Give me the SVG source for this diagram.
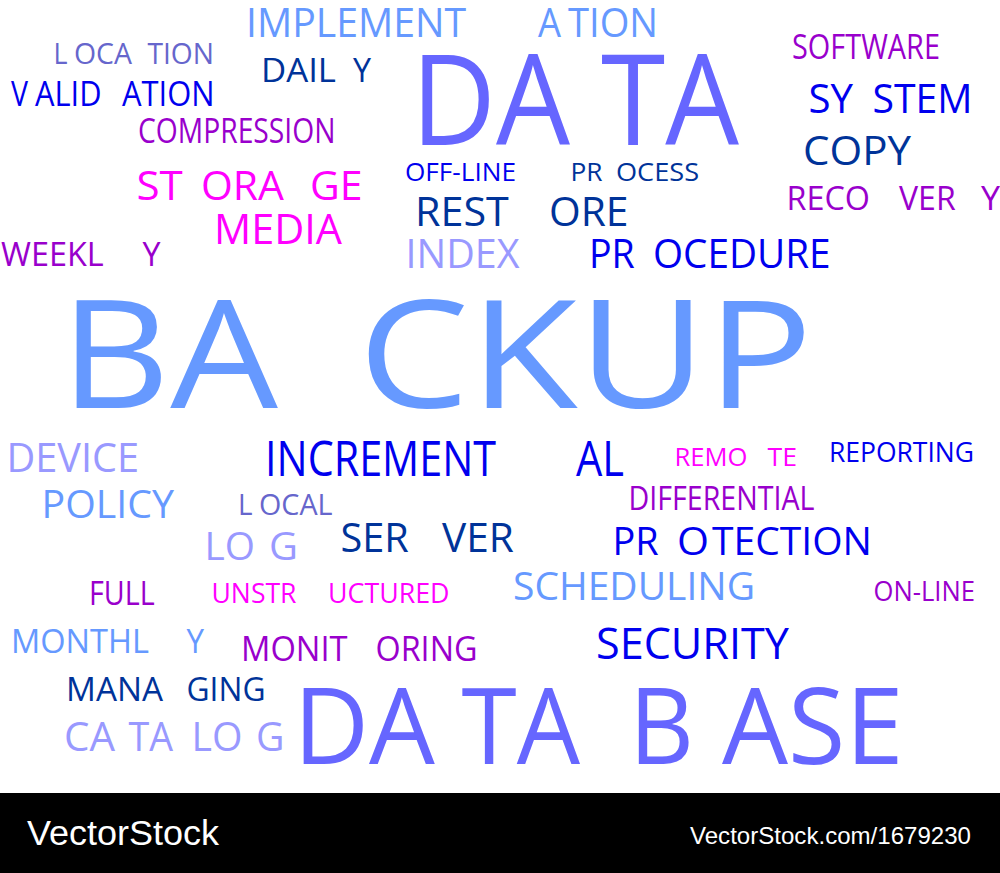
<svg xmlns="http://www.w3.org/2000/svg" width="1000" height="873" viewBox="0 0 1000 873">
<style>
text{font-family:"Open Sans","Noto Sans","Liberation Sans",sans-serif}
.a{fill:#6699ff}.b{fill:#6666ff}.c{fill:#9999ff}.d{fill:#0000ee}.e{fill:#003399}.f{fill:#9900cc}.g{fill:#ff00ff}.h{fill:#6666cc}
.w{fill:#fff;font-family:"Liberation Sans",Arial,sans-serif}
</style>
<rect width="1000" height="873" fill="#fff"/>
<rect y="793" width="1000" height="80" fill="#000"/>
<text class="a" font-size="40" y="36.5"><tspan x="246" textLength="220" lengthAdjust="spacingAndGlyphs">IMPLEMENT</tspan><tspan x="538" textLength="23" lengthAdjust="spacingAndGlyphs">A</tspan><tspan x="568" textLength="90" lengthAdjust="spacingAndGlyphs">TION</tspan></text>
<text class="h" font-size="29" y="64"><tspan x="53.5" textLength="14" lengthAdjust="spacingAndGlyphs">L</tspan><tspan x="74" textLength="58" lengthAdjust="spacingAndGlyphs">OCA</tspan><tspan x="147.4" textLength="66.5" lengthAdjust="spacingAndGlyphs">TION</tspan></text>
<text class="d" font-size="34" y="106"><tspan x="11" textLength="17" lengthAdjust="spacingAndGlyphs">V</tspan><tspan x="35" textLength="66.5" lengthAdjust="spacingAndGlyphs">ALID</tspan><tspan x="122" textLength="92.5" lengthAdjust="spacingAndGlyphs">ATION</tspan></text>
<text class="e" font-size="33" y="82"><tspan x="261" textLength="75" lengthAdjust="spacingAndGlyphs">DAIL</tspan><tspan x="353" textLength="18" lengthAdjust="spacingAndGlyphs">Y</tspan></text>
<text class="b" font-size="126" y="145"><tspan x="411" textLength="159" lengthAdjust="spacingAndGlyphs">DA</tspan><tspan x="601" textLength="138" lengthAdjust="spacingAndGlyphs">TA</tspan></text>
<text class="f" font-size="34" y="59"><tspan x="792" textLength="148" lengthAdjust="spacingAndGlyphs">SOFTWARE</tspan></text>
<text class="d" font-size="40" y="113"><tspan x="808.5" textLength="44.5" lengthAdjust="spacingAndGlyphs">SY</tspan><tspan x="872.5" textLength="100" lengthAdjust="spacingAndGlyphs">STEM</tspan></text>
<text class="e" font-size="41" y="165"><tspan x="803" textLength="108" lengthAdjust="spacingAndGlyphs">COPY</tspan></text>
<text class="f" font-size="34" y="143"><tspan x="138" textLength="197.5" lengthAdjust="spacingAndGlyphs">COMPRESSION</tspan></text>
<text class="g" font-size="41" y="199.5"><tspan x="136.5" textLength="46.3" lengthAdjust="spacingAndGlyphs">ST</tspan><tspan x="201" textLength="83" lengthAdjust="spacingAndGlyphs">ORA</tspan><tspan x="310" textLength="52.5" lengthAdjust="spacingAndGlyphs">GE</tspan></text>
<text class="g" font-size="42" y="244"><tspan x="214" textLength="128" lengthAdjust="spacingAndGlyphs">MEDIA</tspan></text>
<text class="f" font-size="33" y="210"><tspan x="786.5" textLength="83.5" lengthAdjust="spacingAndGlyphs">RECO</tspan><tspan x="899" textLength="56.7" lengthAdjust="spacingAndGlyphs">VER</tspan><tspan x="981" textLength="19" lengthAdjust="spacingAndGlyphs">Y</tspan></text>
<text class="d" font-size="26" y="181"><tspan x="405" textLength="111" lengthAdjust="spacingAndGlyphs">OFF-LINE</tspan></text>
<text class="e" font-size="26" y="181"><tspan x="570.5" textLength="32" lengthAdjust="spacingAndGlyphs">PR</tspan><tspan x="616" textLength="83" lengthAdjust="spacingAndGlyphs">OCESS</tspan></text>
<text class="e" font-size="41" y="226"><tspan x="415" textLength="93.8" lengthAdjust="spacingAndGlyphs">REST</tspan><tspan x="549" textLength="79.5" lengthAdjust="spacingAndGlyphs">ORE</tspan></text>
<text class="c" font-size="40" y="268"><tspan x="405.5" textLength="114" lengthAdjust="spacingAndGlyphs">INDEX</tspan></text>
<text class="d" font-size="40" y="268"><tspan x="589" textLength="45.8" lengthAdjust="spacingAndGlyphs">PR</tspan><tspan x="653" textLength="177.5" lengthAdjust="spacingAndGlyphs">OCEDURE</tspan></text>
<text class="f" font-size="33" y="266"><tspan x="1" textLength="102.7" lengthAdjust="spacingAndGlyphs">WEEKL</tspan><tspan x="142.5" textLength="18" lengthAdjust="spacingAndGlyphs">Y</tspan></text>
<text class="a" font-size="151" y="408"><tspan x="60" textLength="218" lengthAdjust="spacingAndGlyphs">BA</tspan><tspan x="358" textLength="455" lengthAdjust="spacingAndGlyphs">CKUP</tspan></text>
<text class="c" font-size="40" y="472"><tspan x="6.5" textLength="132.5" lengthAdjust="spacingAndGlyphs">DEVICE</tspan></text>
<text class="d" font-size="50" y="476"><tspan x="265" textLength="231" lengthAdjust="spacingAndGlyphs">INCREMENT</tspan><tspan x="576" textLength="48" lengthAdjust="spacingAndGlyphs">AL</tspan></text>
<text class="g" font-size="26" y="466"><tspan x="674.5" textLength="73" lengthAdjust="spacingAndGlyphs">REMO</tspan><tspan x="767.5" textLength="29.5" lengthAdjust="spacingAndGlyphs">TE</tspan></text>
<text class="d" font-size="27" y="462"><tspan x="829" textLength="145" lengthAdjust="spacingAndGlyphs">REPORTING</tspan></text>
<text class="a" font-size="39" y="518"><tspan x="41.5" textLength="132.5" lengthAdjust="spacingAndGlyphs">POLICY</tspan></text>
<text class="h" font-size="29" y="515"><tspan x="238" textLength="14.5" lengthAdjust="spacingAndGlyphs">L</tspan><tspan x="259" textLength="73.5" lengthAdjust="spacingAndGlyphs">OCAL</tspan></text>
<text class="f" font-size="33" y="510"><tspan x="628.5" textLength="186" lengthAdjust="spacingAndGlyphs">DIFFERENTIAL</tspan></text>
<text class="e" font-size="41" y="552"><tspan x="340.5" textLength="68.3" lengthAdjust="spacingAndGlyphs">SER</tspan><tspan x="442" textLength="71.8" lengthAdjust="spacingAndGlyphs">VER</tspan></text>
<text class="d" font-size="39" y="555"><tspan x="612.5" textLength="46.2" lengthAdjust="spacingAndGlyphs">PR</tspan><tspan x="677" textLength="32" lengthAdjust="spacingAndGlyphs">O</tspan><tspan x="712" textLength="160" lengthAdjust="spacingAndGlyphs">TECTION</tspan></text>
<text class="c" font-size="39" y="560"><tspan x="204.5" textLength="50.5" lengthAdjust="spacingAndGlyphs">LO</tspan><tspan x="269" textLength="29" lengthAdjust="spacingAndGlyphs">G</tspan></text>
<text class="f" font-size="33" y="605"><tspan x="89" textLength="65.7" lengthAdjust="spacingAndGlyphs">FULL</tspan></text>
<text class="g" font-size="27" y="603"><tspan x="211.5" textLength="85" lengthAdjust="spacingAndGlyphs">UNSTR</tspan><tspan x="328" textLength="121.5" lengthAdjust="spacingAndGlyphs">UCTURED</tspan></text>
<text class="a" font-size="39" y="600"><tspan x="513" textLength="242" lengthAdjust="spacingAndGlyphs">SCHEDULING</tspan></text>
<text class="f" font-size="27" y="601"><tspan x="873.5" textLength="101.5" lengthAdjust="spacingAndGlyphs">ON-LINE</tspan></text>
<text class="a" font-size="33" y="653"><tspan x="11" textLength="138" lengthAdjust="spacingAndGlyphs">MONTHL</tspan><tspan x="186.5" textLength="17.5" lengthAdjust="spacingAndGlyphs">Y</tspan></text>
<text class="f" font-size="34" y="661"><tspan x="241" textLength="106.6" lengthAdjust="spacingAndGlyphs">MONIT</tspan><tspan x="375.5" textLength="102" lengthAdjust="spacingAndGlyphs">ORING</tspan></text>
<text class="d" font-size="44" y="659"><tspan x="596" textLength="193" lengthAdjust="spacingAndGlyphs">SECURITY</tspan></text>
<text class="e" font-size="33" y="701"><tspan x="66" textLength="97" lengthAdjust="spacingAndGlyphs">MANA</tspan><tspan x="186.5" textLength="79" lengthAdjust="spacingAndGlyphs">GING</tspan></text>
<text class="c" font-size="40" y="751"><tspan x="64" textLength="51" lengthAdjust="spacingAndGlyphs">CA</tspan><tspan x="128.5" textLength="44.5" lengthAdjust="spacingAndGlyphs">TA</tspan><tspan x="191.5" textLength="51" lengthAdjust="spacingAndGlyphs">LO</tspan><tspan x="256" textLength="28.5" lengthAdjust="spacingAndGlyphs">G</tspan></text>
<text class="b" font-size="107" y="764"><tspan x="293.5" textLength="141.5" lengthAdjust="spacingAndGlyphs">DA</tspan><tspan x="461.5" textLength="118.5" lengthAdjust="spacingAndGlyphs">TA</tspan><tspan x="629" textLength="65" lengthAdjust="spacingAndGlyphs">B</tspan><tspan x="722" textLength="181.5" lengthAdjust="spacingAndGlyphs">ASE</tspan></text>
<text class="w" font-size="35" y="845" x="27" textLength="192" lengthAdjust="spacingAndGlyphs">VectorStock</text>
<text class="w" font-size="24" y="844" x="690" textLength="281" lengthAdjust="spacingAndGlyphs">VectorStock.com/1679230</text>
</svg>
